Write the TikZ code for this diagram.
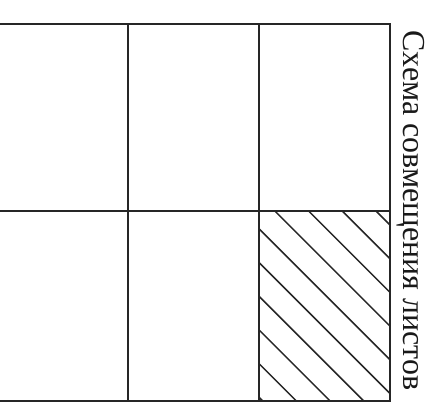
\documentclass[tikz,border=0pt]{standalone}
\usepackage{fontspec}
\setmainfont{Liberation Serif}
\usepackage{tikz}

\begin{document}
\begin{tikzpicture}[x=1pt,y=-1pt,
        sheet/.style={line width=2pt,black!85},
        hatchline/.style={line width=1.5pt,black!85}]
    \useasboundingbox (0,0) rectangle (441,408);
    % --- sheet grid: 3 columns x 2 rows, left border cut off ---
    \draw[sheet] (0,24) -- (390,24) -- (390,401) -- (0,401);
    \draw[sheet] (0,211) -- (390,211);
    \draw[sheet] (128,24) -- (128,401);
    \draw[sheet] (259,24) -- (259,401);
    % --- hatched sheet (bottom right) ---
    \begin{scope}
        \clip (259,211) rectangle (390,401);
        \foreach \k in {0,...,9}
            \draw[hatchline] ({376-33.7*\k},211) -- ++(200,200);
    \end{scope}
    % --- caption, read from top to bottom ---
    \node[rotate=-90,anchor=base,inner sep=0pt,text=black!90] (caption) at (403,210.5)
        {\fontsize{32}{36}\selectfont Схема совмещения листов};
\end{tikzpicture}
\end{document}
